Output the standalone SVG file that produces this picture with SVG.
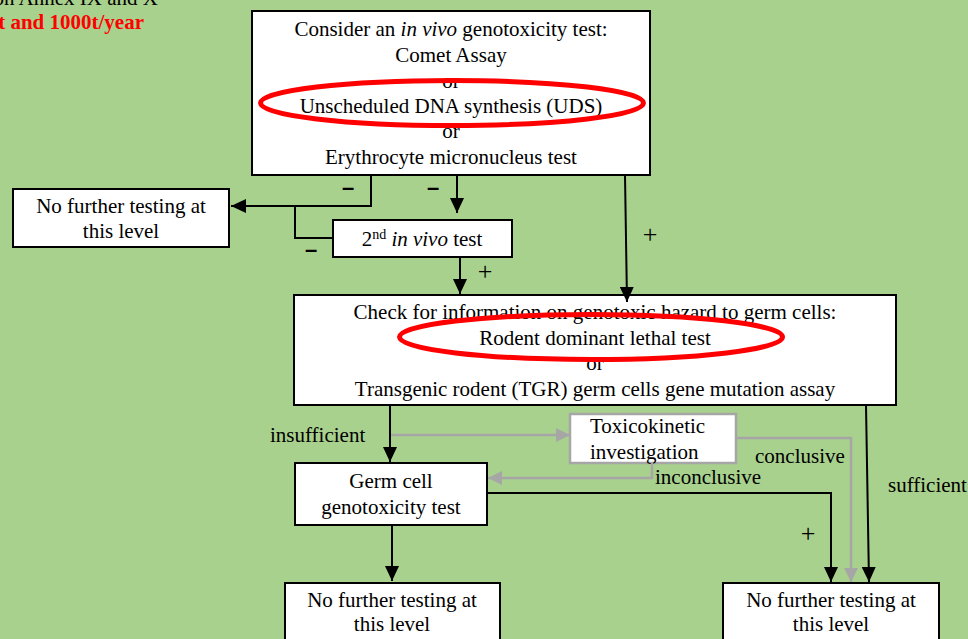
<svg xmlns="http://www.w3.org/2000/svg" width="968" height="639" viewBox="0 0 968 639">
<style>
  .box{fill:#fff;stroke:#000;stroke-width:2}
  .gbox{fill:#fff;stroke:#a6a6a6;stroke-width:2.5}
  .t{font-family:"Liberation Serif","Times New Roman",serif;font-size:21px;fill:#000}
  .c{text-anchor:middle}
  .ln{fill:none;stroke:#000;stroke-width:2}
  .gl{fill:none;stroke:#a6a6a6;stroke-width:2.5}
  .minus{font-family:"Liberation Sans",Arial,sans-serif;font-weight:bold;font-size:22px;fill:#000;text-anchor:middle}
  .plus{font-family:"Liberation Serif","Times New Roman",serif;font-size:26px;fill:#000;text-anchor:middle}
  .ring{fill:none;stroke:#ff0000;stroke-width:5}
</style>
<defs>
  <marker id="ab" markerUnits="userSpaceOnUse" markerWidth="15" markerHeight="14" refX="15" refY="7" orient="auto">
    <path d="M0,0 L15,7 L0,14 Z" fill="#000"/>
  </marker>
  <marker id="ag" markerUnits="userSpaceOnUse" markerWidth="14" markerHeight="14" refX="14" refY="7" orient="auto">
    <path d="M0,0 L14,7 L0,14 Z" fill="#a6a6a6"/>
  </marker>
</defs>
<rect x="0" y="0" width="968" height="639" fill="#a9d18e"/>

<g id="header">
  <text class="t" x="158" y="5" text-anchor="end">on Annex IX and X</text>
  <text x="144" y="29" text-anchor="end" font-family="Liberation Serif,'Times New Roman',serif" font-size="21" font-weight="bold" fill="#ff0000">t and 1000t/year</text>
</g>

<g id="node-consider">
  <rect class="box" x="252" y="11" width="398" height="164"/>
  <text class="t c" x="451" y="36">Consider an <tspan font-style="italic">in vivo</tspan> genotoxicity test:</text>
  <text class="t c" x="451" y="62">Comet Assay</text>
  <text class="t c" x="451" y="88">or</text>
  <text class="t c" x="451" y="113">Unscheduled DNA synthesis (UDS)</text>
  <text class="t c" x="451" y="138">or</text>
  <text class="t c" x="451" y="164">Erythrocyte micronucleus test</text>
</g>

<g id="node-nofurther-left">
  <rect class="box" x="13" y="189" width="216" height="58"/>
  <text class="t c" x="121" y="213">No further testing at</text>
  <text class="t c" x="121" y="238">this level</text>
</g>

<g id="node-second">
  <rect class="box" x="333" y="220" width="179" height="37"/>
  <text class="t c" x="422" y="246">2<tspan font-size="14" dy="-7">nd</tspan><tspan dy="7"> </tspan><tspan font-style="italic">in vivo</tspan> test</text>
</g>

<g id="node-check">
  <rect class="box" x="294" y="295" width="602" height="110"/>
  <text class="t c" x="595" y="319">Check for information on genotoxic hazard to germ cells:</text>
  <text class="t c" x="595" y="345">Rodent dominant lethal test</text>
  <text class="t c" x="595" y="370">or</text>
  <text class="t c" x="595" y="396">Transgenic rodent (TGR) germ cells gene mutation assay</text>
</g>

<g id="node-toxico">
  <rect class="gbox" x="570" y="414" width="166" height="49"/>
  <text class="t" x="590" y="433">Toxicokinetic</text>
  <text class="t" x="590" y="459">investigation</text>
</g>

<g id="node-germ">
  <rect class="box" x="295" y="463" width="192" height="62"/>
  <text class="t c" x="391" y="488">Germ cell</text>
  <text class="t c" x="391" y="514">genotoxicity test</text>
</g>

<g id="node-nofurther-bl">
  <rect class="box" x="285" y="583" width="215" height="70"/>
  <text class="t c" x="392" y="607">No further testing at</text>
  <text class="t c" x="392" y="631">this level</text>
</g>

<g id="node-nofurther-br">
  <rect class="box" x="723" y="583" width="216" height="70"/>
  <text class="t c" x="831" y="607">No further testing at</text>
  <text class="t c" x="831" y="631">this level</text>
</g>

<g id="connectors">
  <polyline class="ln" points="371,175 371,206 231,206" marker-end="url(#ab)"/>
  <polyline class="ln" points="295,206 295,238 333,238"/>
  <line class="ln" x1="457" y1="175" x2="457" y2="213" marker-end="url(#ab)"/>
  <line class="ln" x1="460" y1="257" x2="460" y2="294" marker-end="url(#ab)"/>
  <line class="ln" x1="625" y1="175" x2="627" y2="302" marker-end="url(#ab)"/>
  <line class="ln" x1="390" y1="405" x2="390" y2="462" marker-end="url(#ab)"/>
  <line class="gl" x1="391" y1="435" x2="570" y2="435" marker-end="url(#ag)"/>
  <polyline class="gl" points="652,463 652,478 488,478" marker-end="url(#ag)"/>
  <polyline class="gl" points="736,438 851,438 851,582" marker-end="url(#ag)"/>
  <polyline class="ln" points="487,493 831,493 831,582" marker-end="url(#ab)"/>
  <line class="ln" x1="866" y1="405" x2="869" y2="582" marker-end="url(#ab)"/>
  <line class="ln" x1="392" y1="525" x2="392" y2="581" marker-end="url(#ab)"/>
  <text class="minus" x="348" y="195">–</text>
  <text class="minus" x="433" y="195">–</text>
  <text class="minus" x="311" y="257">–</text>
  <text class="plus" x="650" y="243">+</text>
  <text class="plus" x="485" y="280">+</text>
  <text class="plus" x="808" y="542">+</text>
  <text class="t" x="270" y="442">insufficient</text>
  <text class="t" x="655" y="484">inconclusive</text>
  <text class="t" x="755" y="463">conclusive</text>
  <text class="t" x="888" y="492">sufficient</text>
</g>

<g id="highlights">
  <ellipse class="ring" cx="452" cy="103" rx="191.5" ry="22.5"/>
  <ellipse class="ring" cx="591" cy="337" rx="191.5" ry="22.5"/>
</g>
</svg>
